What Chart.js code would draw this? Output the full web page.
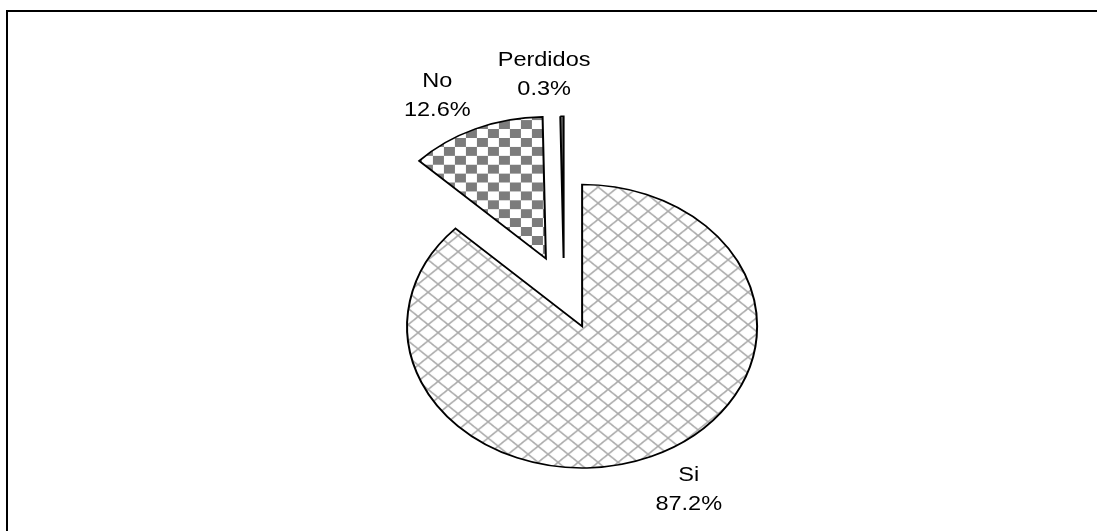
<!DOCTYPE html>
<html>
<head>
<meta charset="utf-8">
<script src="https://cdn.jsdelivr.net/npm/chart.js@4/dist/chart.umd.min.js"></script>
<style>
    html, body { margin: 0; padding: 0; background: #fff; overflow: hidden; }
    #frame {
        position: absolute; left: 6px; top: 10px;
        width: 1200px; height: 700px;
        border: 2px solid #000;
    }
    #wrap { position: absolute; left: 0; top: 0; width: 1097px; height: 531px; }
</style>
</head>
<body>
<div id="frame"></div>
<div id="wrap"><canvas id="pieChart" width="1097" height="531"></canvas></div>
<script>
// --- Data ---
const categories = ['Si', 'No', 'Perdidos'];
const percents = [87.2, 12.6, 0.3];
const percentLabels = ['87.2%', '12.6%', '0.3%'];

// --- Look ---
const Y_SQUASH = 0.81;        // pie is drawn as a tilted ellipse
const PIE_RADIUS = 175;
const explode = [46, 45, 42]; // how far each slice is pulled out, px

function makeCrossHatch() {
    const s = 20;
    const c = document.createElement('canvas');
    c.width = s; c.height = s;
    const g = c.getContext('2d');
    g.fillStyle = '#fff';
    g.fillRect(0, 0, s, s);
    g.strokeStyle = '#a8a8a8';
    g.lineWidth = 1.6;
    g.beginPath();
    g.moveTo(-2, -2); g.lineTo(s + 2, s + 2);
    g.moveTo(s + 2, -2); g.lineTo(-2, s + 2);
    g.stroke();
    return g.createPattern(c, 'repeat');
}

function makeChecker() {
    const s = 22, h = s / 2;
    const c = document.createElement('canvas');
    c.width = s; c.height = s;
    const g = c.getContext('2d');
    g.fillStyle = '#fff';
    g.fillRect(0, 0, s, s);
    g.fillStyle = '#7c7c7c';
    g.fillRect(0, 0, h, h);
    g.fillRect(h, h, h, h);
    return g.createPattern(c, 'repeat');
}

// squash the pie vertically, pull each slice out, then write outside labels
const ellipsePlugin = {
    id: 'ellipse',
    beforeDatasetsDraw(chart) {
        const arc = chart.getDatasetMeta(0).data[0];
        const ctx = chart.ctx;
        ctx.save();
        ctx.translate(arc.x, arc.y);
        ctx.scale(1, Y_SQUASH);
        ctx.translate(-arc.x, -arc.y);
    },
    beforeDatasetDraw(chart, args) {
        const ctx = chart.ctx;
        args.meta.data.forEach((arc, i) => {
            const half = (arc.startAngle + arc.endAngle) / 2;
            ctx.save();
            ctx.translate(Math.cos(half) * explode[i], Math.sin(half) * explode[i]);
            arc.draw(ctx, chart.chartArea);
            ctx.restore();
        });
        return false;
    },
    afterDatasetsDraw(chart) {
        const ctx = chart.ctx;
        ctx.restore();

        const meta = chart.getDatasetMeta(0);
        const font = '21px "Liberation Sans", Arial, sans-serif';
        const stretch = 1.12, lineGap = 29, gap = 25;
        const angleShift = -4 * Math.PI / 180;
        ctx.save();
        ctx.font = font;
        ctx.fillStyle = '#000';
        ctx.textAlign = 'center';
        ctx.textBaseline = 'middle';
        meta.data.forEach((arc, i) => {
            const half = (arc.startAngle + arc.endAngle) / 2;
            const cx = arc.x + Math.cos(half) * explode[i];
            const cy = arc.y + Math.sin(half) * explode[i] * Y_SQUASH;

            const a = half + angleShift;
            const lines = [categories[i], percentLabels[i]];
            const w = Math.max(...lines.map(t => ctx.measureText(t).width)) * stretch;
            const h = lineGap * 1.5;
            const ex = cx + Math.cos(a) * (arc.outerRadius + gap);
            const ey = cy + Math.sin(a) * (arc.outerRadius + gap) * Y_SQUASH;
            const lx = ex + Math.cos(a) * w / 2;
            const ly = ey + Math.sin(a) * h / 2;

            lines.forEach((t, k) => {
                ctx.save();
                ctx.translate(lx, ly + (k - 0.5) * lineGap);
                ctx.scale(stretch, 1);
                ctx.fillText(t, 0, 0);
                ctx.restore();
            });
        });
        ctx.restore();
    }
};

const ctx = document.getElementById('pieChart').getContext('2d');
new Chart(ctx, {
    type: 'pie',
    data: {
        labels: categories,
        datasets: [{
            data: percents,
            backgroundColor: [makeCrossHatch(), makeChecker(), '#808080'],
            borderColor: '#000',
            borderWidth: 2,
            borderJoinStyle: 'miter',
            offset: 0,
            hoverOffset: 0
        }]
    },
    options: {
        responsive: false,
        animation: false,
        radius: PIE_RADIUS,
        layout: { padding: { left: 31, top: 53, right: 0, bottom: 0 } },
        plugins: {
            legend: { display: false },
            tooltip: { enabled: false }
        }
    },
    plugins: [ellipsePlugin]
});
</script>
</body>
</html>
